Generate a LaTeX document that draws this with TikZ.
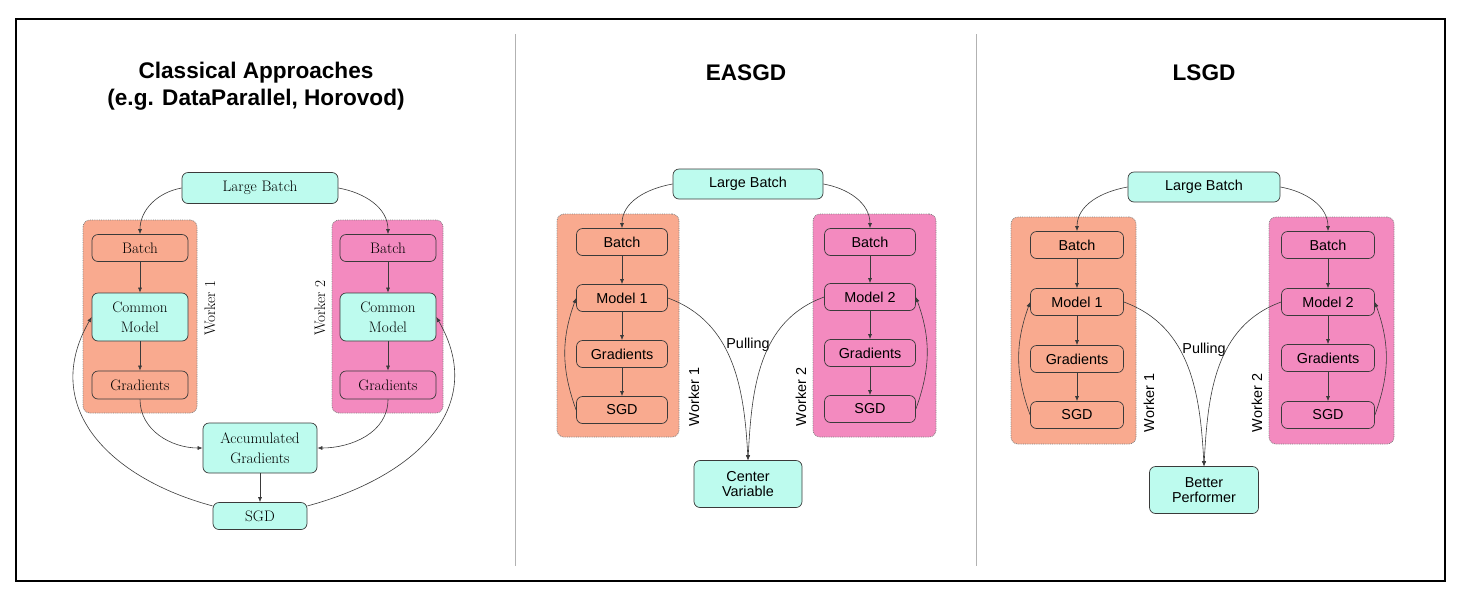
\documentclass[tikz,border=0pt]{standalone}
\usepackage{fontspec}
\newfontfamily\helv{Liberation Sans}
\usetikzlibrary{arrows.meta}
\definecolor{aqua}{HTML}{BDFBEE}
\definecolor{wone}{HTML}{F9AA8F}
\definecolor{wtwo}{HTML}{F38ABF}
\definecolor{rim}{HTML}{3A3A3A}
\newcommand{\cm}{\fontsize{15.2}{19.5}\selectfont}
\newcommand{\hv}{\helv\fontsize{14.4}{14.5}\selectfont}

\begin{document}
\begin{tikzpicture}[x=1pt, y=-1pt,
    box/.style={draw=rim, line width=0.7pt, rounded corners=6pt, align=center, inner sep=2pt},
    cbox/.style={box, font=\cm, minimum width=96, minimum height=27},
    hbox/.style={box, font=\hv, minimum width=91, minimum height=27},
    group/.style={draw=gray, densely dotted, line width=0.8pt, rounded corners=7pt},
    title/.style={font=\helv\bfseries\fontsize{22.6}{27}\selectfont, align=center},
    edge/.style={->, draw=rim, line width=0.6pt},
    >={Latex[length=5pt,width=4pt]}]
  \useasboundingbox (0,0) rectangle (1470,606);
  \draw[line width=2pt] (15.5,19) rectangle (1444.5,581);
  \draw[gray!60, line width=0.8pt] (515.5,34) -- (515.5,566);
  \draw[gray!60, line width=0.8pt] (976.5,34) -- (976.5,566);

  % classical approaches
  \node[title] (t1) at (256,86) {Classical Approaches\\(e.g. DataParallel, Horovod)};
  \node[group, fill=wone, minimum width=114, minimum height=193] (g1) at (140,316.5) {};
  \node[group, fill=wtwo, minimum width=111, minimum height=193] (g2) at (387.5,316.5) {};
  \node[cbox, fill=aqua, minimum width=156, minimum height=31] (lb) at (260,188) {Large Batch};
  \node[cbox, fill=wone] (b1) at (140,248) {Batch};
  \node[cbox, fill=aqua, minimum height=48] (cm1) at (140,317) {Common\\Model};
  \node[cbox, fill=wone, minimum height=28] (gr1) at (140,385) {Gradients};
  \node[cbox, fill=wtwo] (b2) at (388,248) {Batch};
  \node[cbox, fill=aqua, minimum height=48] (cm2) at (388,317) {Common\\Model};
  \node[cbox, fill=wtwo, minimum height=28] (gr2) at (388,385) {Gradients};
  \node[cbox, fill=aqua, minimum width=114, minimum height=50] (acc) at (260,448) {Accumulated\\Gradients};
  \node[cbox, fill=aqua, minimum width=94] (sgd) at (260,516) {SGD};
  \node[font=\cm, rotate=90] (w1) at (210,308) {Worker 1};
  \node[font=\cm, rotate=90] (w2) at (320,308) {Worker 2};
  \draw[edge] (lb.west) to[out=190, in=90] (b1.north);
  \draw[edge] (lb.east) to[out=-10, in=90] (b2.north);
  \draw[edge] (b1) -- (cm1);
  \draw[edge] (cm1) -- (gr1);
  \draw[edge] (b2) -- (cm2);
  \draw[edge] (cm2) -- (gr2);
  \draw[edge] (gr1.south) to[out=-90, in=180] (acc.west);
  \draw[edge] (gr2.south) to[out=-90, in=0] (acc.east);
  \draw[edge] (acc) -- (sgd);
  \draw[edge] (sgd.168) to[out=165, in=240, looseness=1.2] (cm1.west);
  \draw[edge] (sgd.12) to[out=15, in=-60, looseness=1.2] (cm2.east);

  % easgd
  \node[title] (t2) at (746,73) {EASGD};
  \node[group, fill=wone, minimum width=122, minimum height=223] (g3) at (618,325.5) {};
  \node[group, fill=wtwo, minimum width=123, minimum height=223] (g4) at (874.5,325.5) {};
  \node[hbox, fill=aqua, minimum width=150, minimum height=30] (lb2) at (748,184) {Large Batch};
  \node[hbox, fill=wone] (b3) at (622,242) {Batch};
  \node[hbox, fill=wone] (m3) at (622,298) {Model 1};
  \node[hbox, fill=wone] (gd3) at (622,354) {Gradients};
  \node[hbox, fill=wone] (s3) at (622,410) {SGD};
  \node[hbox, fill=wtwo] (b4) at (870,242) {Batch};
  \node[hbox, fill=wtwo] (m4) at (870,297) {Model 2};
  \node[hbox, fill=wtwo] (gd4) at (870,353) {Gradients};
  \node[hbox, fill=wtwo] (s4) at (870,409) {SGD};
  \node[hbox, fill=aqua, minimum width=108, minimum height=47] (cv) at (748,484) {Center\\Variable};
  \node[font=\hv, rotate=90] (w3) at (694,397) {Worker 1};
  \node[font=\hv, rotate=90] (w4) at (801,397) {Worker 2};
  \node[font=\hv] (p1) at (748,345) {Pulling};
  \draw[edge] (lb2.west) to[out=190, in=90] (b3.north);
  \draw[edge] (lb2.east) to[out=-10, in=90] (b4.north);
  \draw[edge] (b3) -- (m3);
  \draw[edge] (m3) -- (gd3);
  \draw[edge] (gd3) -- (s3);
  \draw[edge] (b4) -- (m4);
  \draw[edge] (m4) -- (gd4);
  \draw[edge] (gd4) -- (s4);
  \draw[edge] (s3.west) to[out=110, in=250] (m3.west);
  \draw[edge] (s4.east) to[out=70, in=-70] (m4.east);
  \draw[edge] (m3.east) to[out=-20, in=93] (cv.north);
  \draw[edge] (m4.west) to[out=200, in=87] (cv.north);

  % lsgd
  \node[title] (t3) at (1204,73) {LSGD};
  \node[group, fill=wone, minimum width=125, minimum height=227] (g5) at (1073.5,330.5) {};
  \node[group, fill=wtwo, minimum width=125, minimum height=227] (g6) at (1331.5,330.5) {};
  \node[hbox, fill=aqua, minimum width=152, minimum height=30] (lb3) at (1204,187) {Large Batch};
  \node[hbox, fill=wone, minimum width=93] (b5) at (1077,245) {Batch};
  \node[hbox, fill=wone, minimum width=93] (m5) at (1077,302) {Model 1};
  \node[hbox, fill=wone, minimum width=93] (gd5) at (1077,359) {Gradients};
  \node[hbox, fill=wone, minimum width=93] (s5) at (1077,415) {SGD};
  \node[hbox, fill=wtwo, minimum width=93] (b6) at (1328,245) {Batch};
  \node[hbox, fill=wtwo, minimum width=93] (m6) at (1328,302) {Model 2};
  \node[hbox, fill=wtwo, minimum width=93] (gd6) at (1328,358) {Gradients};
  \node[hbox, fill=wtwo, minimum width=93] (s6) at (1328,415) {SGD};
  \node[hbox, fill=aqua, minimum width=109, minimum height=47] (bp) at (1204,490) {Better\\Performer};
  \node[font=\hv, rotate=90] (w5) at (1149,403) {Worker 1};
  \node[font=\hv, rotate=90] (w6) at (1257,403) {Worker 2};
  \node[font=\hv] (p2) at (1204,350) {Pulling};
  \draw[edge] (lb3.west) to[out=190, in=90] (b5.north);
  \draw[edge] (lb3.east) to[out=-10, in=90] (b6.north);
  \draw[edge] (b5) -- (m5);
  \draw[edge] (m5) -- (gd5);
  \draw[edge] (gd5) -- (s5);
  \draw[edge] (b6) -- (m6);
  \draw[edge] (m6) -- (gd6);
  \draw[edge] (gd6) -- (s6);
  \draw[edge] (s5.west) to[out=110, in=250] (m5.west);
  \draw[edge] (s6.east) to[out=70, in=-70] (m6.east);
  \draw[edge] (m5.east) to[out=-20, in=93] (bp.north);
  \draw[edge] (m6.west) to[out=200, in=87] (bp.north);
\end{tikzpicture}
\end{document}
